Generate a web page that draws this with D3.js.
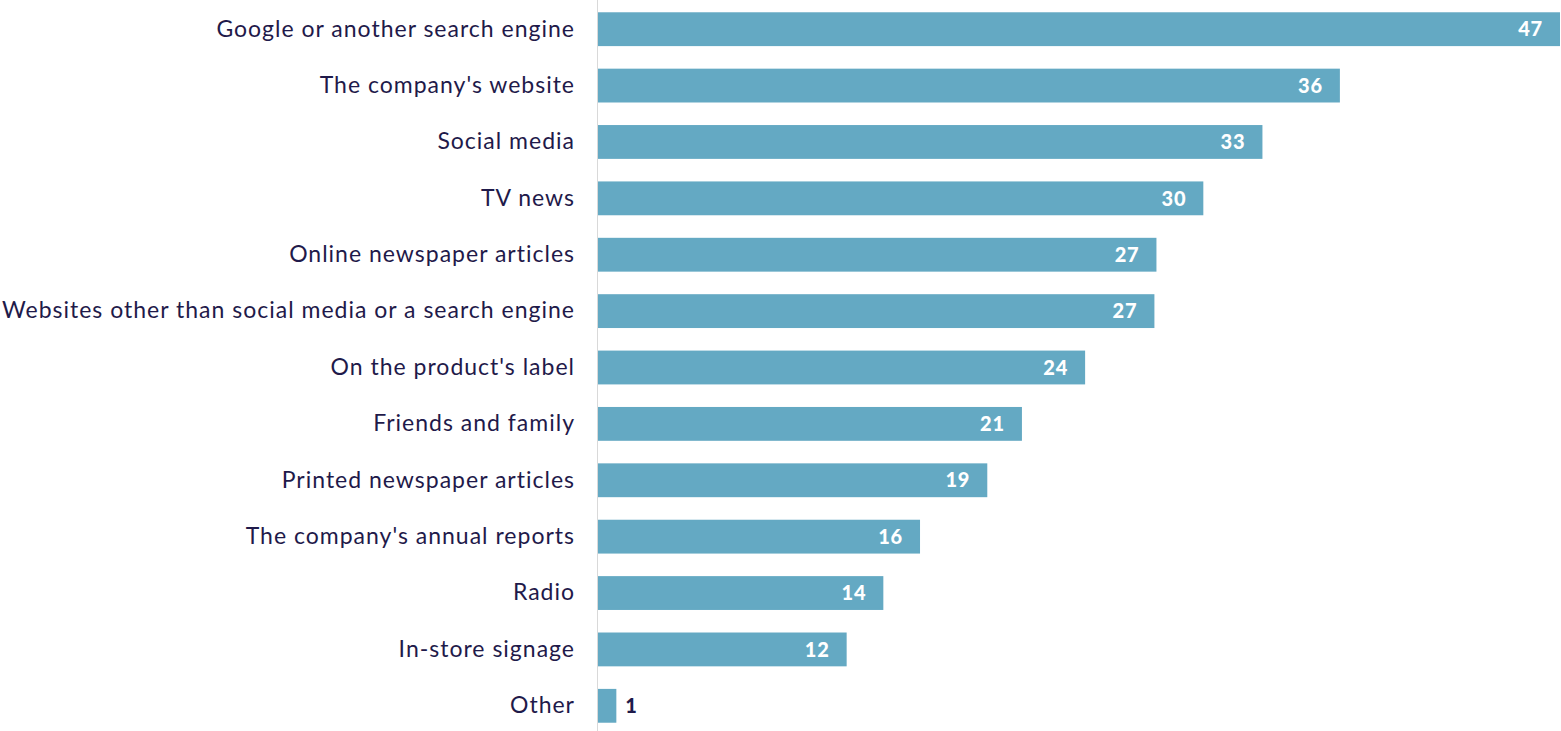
<!DOCTYPE html>
<html>
<head>
<meta charset="utf-8">
<script src="https://cdn.jsdelivr.net/npm/d3@7"></script>
<style>
  body { margin: 0; background: #ffffff; }
  svg { display: block; }
</style>
</head>
<body>
<div id="chart"></div>
<script>
// values (labels show them rounded)
const categories = [
    "Google or another search engine",
    "The company's website",
    "Social media",
    "TV news",
    "Online newspaper articles",
    "Websites other than social media or a search engine",
    "On the product's label",
    "Friends and family",
    "Printed newspaper articles",
    "The company's annual reports",
    "Radio",
    "In-store signage",
    "Other"
];
const values = [47.2, 36.4, 32.6, 29.7, 27.4, 27.3, 23.9, 20.8, 19.1, 15.8, 14.0, 12.2, 0.9];
const labels = ["47", "36", "33", "30", "27", "27", "24", "21", "19", "16", "14", "12", "1"];

(function (d3) {
    "use strict";

    const width = 1561;
    const height = 731;
    const axisX = 598;

    const data = categories.map((c, i) => ({ cat: c, value: values[i], label: labels[i] }));

    const x = d3.scaleLinear()
        .domain([0, 47.2])
        .range([axisX, 1560]);

    const y = d3.scaleBand()
        .domain(categories)
        .range([1, 734])
        .paddingInner(0.4)
        .paddingOuter(0.2);

    const svg = d3.select("#chart")
        .append("svg")
            .attr("width", width)
            .attr("height", height);

    const bars = svg.append("g")
        .selectAll("g")
            .data(data)
            .enter()
            .append("g");

    bars.append("rect")
        .attr("x", x(0))
        .attr("y", d => y(d.cat))
        .attr("width", d => x(d.value) - x(0))
        .attr("height", y.bandwidth())
        .attr("fill", "#64a9c3");

    // value labels: inside the bar if it is wide enough, otherwise after it
    const inside = d => x(d.value) - x(0) > 50;
    bars.append("text")
        .attr("x", d => inside(d) ? x(d.value) - 17 : x(d.value) + 9)
        .attr("y", d => y(d.cat) + y.bandwidth() / 2)
        .attr("dy", "0.36em")
        .attr("text-anchor", d => inside(d) ? "end" : "start")
        .style("font-family", "Lato, 'Open Sans', sans-serif")
        .style("font-weight", "900")
        .style("font-size", "20px")
        .style("letter-spacing", "0.8px")
        .style("fill", d => inside(d) ? "#ffffff" : "#1f1a4a")
        .text(d => d.label);

    // category axis on the left
    const yAxis = d3.axisLeft(y).tickSize(0).tickPadding(22);
    const axisG = svg.append("g")
        .attr("transform", `translate(${axisX - 1},0)`)
        .call(yAxis);

    axisG.select(".domain").remove();
    axisG.selectAll("text")
        .style("font-family", "Lato, 'Open Sans', sans-serif")
        .style("font-size", "23px")
        .style("letter-spacing", "1px")
        .style("fill", "#1f1a4a");

    svg.append("line")
        .attr("x1", axisX - 0.5)
        .attr("x2", axisX - 0.5)
        .attr("y1", 0)
        .attr("y2", height)
        .attr("stroke", "#d9d9d9")
        .attr("stroke-width", 1);
})(d3);
</script>
</body>
</html>
